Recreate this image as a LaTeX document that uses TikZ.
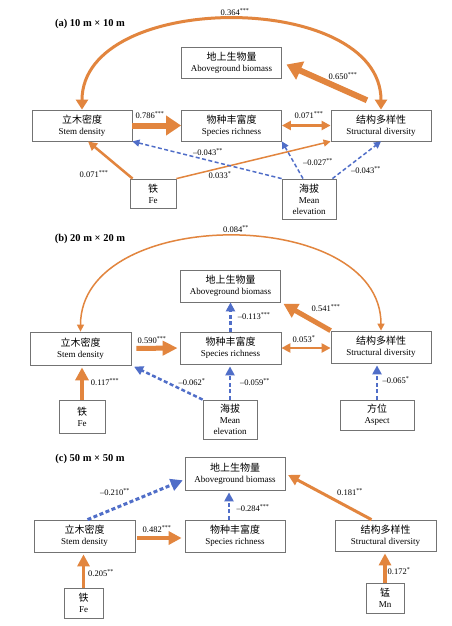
\documentclass[tikz,border=0pt]{standalone}
\usepackage{fontspec}
\setmainfont{Liberation Serif}
\newfontfamily\cjk{Noto Sans CJK SC}
\usetikzlibrary{arrows.meta}
\definecolor{orangeL}{RGB}{226,133,62}
\definecolor{blueL}{RGB}{80,110,200}
\newcommand{\zh}[1]{{\cjk\fontsize{10}{11}\selectfont #1}}

\begin{document}
\begin{tikzpicture}[x=1pt, y=-1pt,
	box/.style={draw=black!55, line width=0.8pt, align=center, inner sep=0pt, minimum width=100pt, minimum height=31pt, font=\fontsize{9}{11}\selectfont},
	lab/.style={inner sep=0pt, font=\fontsize{8.5}{10}\selectfont},
	ttl/.style={inner sep=0pt, font=\fontsize{10.5}{12}\selectfont\bfseries},
	pthin/.style={draw=orangeL, line width=1.5pt, -{Triangle[length=7pt,width=7pt]}},
	pmid/.style={draw=orangeL, line width=2.5pt, -{Triangle[length=9pt,width=9pt]}},
	pboth/.style={draw=orangeL, line width=2.5pt, {Triangle[length=9pt,width=9pt]}-{Triangle[length=9pt,width=9pt]}},
	parc/.style={draw=orangeL, line width=3pt, {Triangle[length=10pt,width=12pt]}-{Triangle[length=10pt,width=12pt]}},
	parcthin/.style={draw=orangeL, line width=1.5pt, {Triangle[length=7pt,width=7pt]}-{Triangle[length=7pt,width=7pt]}},
	pthick/.style={draw=orangeL, line width=4pt, -{Triangle[length=13pt,width=13pt]}},
	pfat/.style={draw=orangeL, line width=6pt, -{Triangle[length=15pt,width=19pt]}},
	neg/.style={draw=blueL, line width=1.5pt, dash pattern=on 4pt off 2.5pt, -{Triangle[length=7pt,width=7pt]}},
	negmid/.style={draw=blueL, line width=2.5pt, dash pattern=on 4pt off 2.5pt, -{Triangle[length=9pt,width=9pt]}}]
	\useasboundingbox (0,0) rectangle (452,626);
	\fill[white] (0,0) rectangle (452,626);

	% (a) 10 m x 10 m
	\node[ttl] (ta) at (90,24){(a) 10 m × 10 m};
	\node[box] (agba) at (231.5,62.5){\zh{地上生物量}\\Aboveground biomass};
	\node[box] (sda) at (82,125.5){\zh{立木密度}\\Stem density};
	\node[box] (sra) at (231.5,125.5){\zh{物种丰富度}\\Species richness};
	\node[box] (sta) at (381,125.5){\zh{结构多样性}\\Structural diversity};
	\node[box, minimum width=46pt, minimum height=29pt] (fea) at (153,193.5){\zh{铁}\\Fe};
	\node[box, minimum width=54pt, minimum height=40pt] (mea) at (309,199){\zh{海拔}\\Mean\\elevation};

	\draw[parc] (sda.north) .. controls (82,-10) and (381,-10) .. (sta.north);
	\path ([xshift=7pt]sta.north) edge[pfat, shorten <=23pt, shorten >=5pt] (agba.east);
	\path (sda.east) edge[pfat] (sra.west);
	\path (sra.east) edge[pboth] (sta.west);
	\path ([xshift=3pt]fea.north west) edge[pmid] ([xshift=6pt]sda.south);
	\path (fea.north east) edge[pthin] (sta.south west);
	\path (mea.north west) edge[neg] (sda.south east);
	\path ([xshift=-6pt]mea.north) edge[neg] (sra.south east);
	\path ([xshift=-4pt]mea.north east) edge[neg] (sta.south);

	\node[lab] (la1) at (235,12){0.364\textsuperscript{***}};
	\node[lab] (la2) at (343,76){0.650\textsuperscript{***}};
	\node[lab] (la3) at (150,115){0.786\textsuperscript{***}};
	\node[lab] (la4) at (309,115){0.071\textsuperscript{***}};
	\node[lab] (la5) at (94,174){0.071\textsuperscript{***}};
	\node[lab] (la6) at (220,175){0.033\textsuperscript{*}};
	\node[lab] (la7) at (208,152){–0.043\textsuperscript{**}};
	\node[lab] (la8) at (318,162){–0.027\textsuperscript{**}};
	\node[lab] (la9) at (366,170){–0.043\textsuperscript{**}};

	% (b) 20 m x 20 m
	\node[ttl] (tb) at (90,239){(b) 20 m × 20 m};
	\node[box, minimum height=32pt] (agbb) at (230.5,286){\zh{地上生物量}\\Aboveground biomass};
	\node[box, minimum width=101pt, minimum height=33pt] (sdb) at (80.5,348.5){\zh{立木密度}\\Stem density};
	\node[box, minimum width=101pt, minimum height=32pt] (srb) at (230.5,348){\zh{物种丰富度}\\Species richness};
	\node[box, minimum height=32pt] (stb) at (381,347){\zh{结构多样性}\\Structural diversity};
	\node[box, minimum width=46pt, minimum height=33pt] (feb) at (82,416.5){\zh{铁}\\Fe};
	\node[box, minimum width=54pt, minimum height=39pt] (meb) at (230,419.5){\zh{海拔}\\Mean\\elevation};
	\node[box, minimum width=74pt, minimum height=30pt] (asb) at (377,415){\zh{方位}\\Aspect};

	\draw[parcthin] (sdb.north) .. controls (80.5,205) and (381,205) .. (stb.north);
	\path (stb.north west) edge[pthick, line width=5pt, shorten >=3pt, -{Triangle[length=14pt,width=15pt]}] (agbb.south east);
	\path (srb.north) edge[negmid] (agbb.south);
	\path (sdb.east) edge[pthick, line width=5pt, shorten <=5pt, shorten >=2pt, -{Triangle[length=15pt,width=14pt]}] (srb.west);
	\path (srb.east) edge[pboth] (srb.east -| stb.west);
	\path (feb.north) edge[pthick, shorten >=2pt] (feb.north |- sdb.south);
	\path (meb.north west) edge[negmid, shorten >=3pt] (sdb.south east);
	\path (meb.north) edge[negmid, shorten >=2pt] (meb.north |- srb.south);
	\path (asb.north) edge[negmid, shorten >=2pt] (asb.north |- stb.south);

	\node[lab] (lb1) at (236,229){0.084\textsuperscript{**}};
	\node[lab] (lb2) at (326,308){0.541\textsuperscript{***}};
	\node[lab] (lb3) at (254,316){–0.113\textsuperscript{***}};
	\node[lab] (lb4) at (152,340){0.590\textsuperscript{***}};
	\node[lab] (lb5) at (304,339){0.053\textsuperscript{*}};
	\node[lab] (lb6) at (105,382){0.117\textsuperscript{***}};
	\node[lab] (lb7) at (192,382){–0.062\textsuperscript{*}};
	\node[lab] (lb8) at (255,382){–0.059\textsuperscript{**}};
	\node[lab] (lb9) at (396,380){–0.065\textsuperscript{*}};

	% (c) 50 m x 50 m
	\node[ttl] (tc) at (90,459){(c) 50 m × 50 m};
	\node[box, minimum height=33pt] (agbc) at (235,473.5){\zh{地上生物量}\\Aboveground biomass};
	\node[box, minimum width=101pt, minimum height=32pt] (sdc) at (84.5,536){\zh{立木密度}\\Stem density};
	\node[box, minimum height=32pt] (src) at (235,536){\zh{物种丰富度}\\Species richness};
	\node[box, minimum width=101pt] (stc) at (385.5,535.5){\zh{结构多样性}\\Structural diversity};
	\node[box, minimum width=39pt, minimum height=30pt] (fec) at (83.5,603){\zh{铁}\\Fe};
	\node[box, minimum width=38pt, minimum height=30pt] (mnc) at (385,598){\zh{锰}\\Mn};

	\path ([xshift=3pt]sdc.north) edge[negmid, line width=3pt, shorten >=2pt, -{Triangle[length=12pt,width=12pt]}] ([yshift=-6pt]agbc.west);
	\path ([xshift=-6pt]src.north) edge[negmid, shorten >=2pt] ([xshift=-6pt]agbc.south);
	\path ([xshift=-14pt]stc.north) edge[pmid, line width=3pt, shorten >=3pt, -{Triangle[length=11pt,width=11pt]}] (agbc.east);
	\path ([yshift=-2pt]sdc.east) edge[pthick, shorten <=2pt, shorten >=3pt] ([yshift=-2pt]src.west);
	\path (fec.north) edge[pthick, line width=3.5pt, shorten >=2pt, -{Triangle[length=12pt,width=12pt]}] (fec.north |- sdc.south);
	\path (mnc.north) edge[pthick, line width=3.5pt, shorten >=2pt, -{Triangle[length=12pt,width=12pt]}] (mnc.north |- stc.south);

	\node[lab] (lc1) at (115,492){–0.210\textsuperscript{**}};
	\node[lab] (lc2) at (253,508){–0.284\textsuperscript{***}};
	\node[lab] (lc3) at (350,492){0.181\textsuperscript{**}};
	\node[lab] (lc4) at (157,529){0.482\textsuperscript{***}};
	\node[lab] (lc5) at (101,573){0.205\textsuperscript{**}};
	\node[lab] (lc6) at (399,571){0.172\textsuperscript{*}};
\end{tikzpicture}
\end{document}
